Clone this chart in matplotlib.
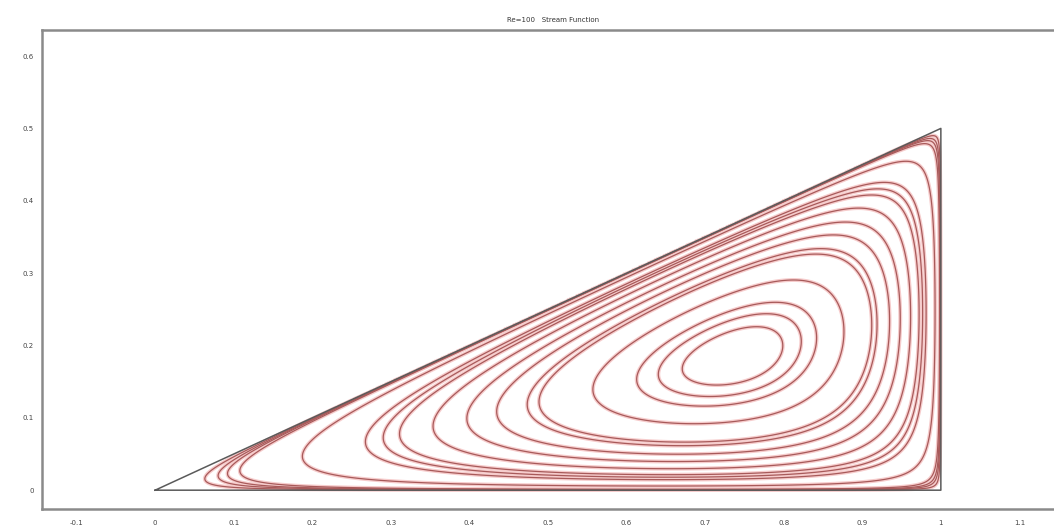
import numpy as np
import matplotlib
matplotlib.use("Agg")
import matplotlib.pyplot as plt

# Cavity geometry: right triangle with vertices (0,0), (1,0), (1,0.5)
tri_x = [0.0, 1.0, 1.0, 0.0]
tri_y = [0.0, 0.0, 0.5, 0.0]

# Streamline levels, as fractions of the peak stream-function value
levels = [0.0035, 0.0067, 0.0098, 0.015, 0.065, 0.16, 0.195, 0.23, 0.31,
          0.40, 0.485, 0.575, 0.61, 0.765, 0.875, 0.92, 0.96]

x_ticks = [-0.1, 0, 0.1, 0.2, 0.3, 0.4, 0.5, 0.6, 0.7, 0.8, 0.9, 1, 1.1]
x_labels = ["-0.1", "0", "0.1", "0.2", "0.3", "0.4", "0.5", "0.6", "0.7",
            "0.8", "0.9", "1", "1.1"]
y_ticks = [0, 0.1, 0.2, 0.3, 0.4, 0.5, 0.6]
y_labels = ["0", "0.1", "0.2", "0.3", "0.4", "0.5", "0.6"]

title = "Re=100   Stream Function"

# Stream function on the triangular cavity (zero on all three walls)
gx, gy = np.meshgrid(np.linspace(0, 1, 800), np.linspace(0, 0.5, 450))
psi = gy * (gx / 2 - gy) * (1 - gx) * gx ** 0.82
psi = np.where(gy <= gx / 2, psi, np.nan)
psi = psi / np.nanmax(psi)

fig = plt.figure(figsize=(10.54, 5.32), dpi=100)
ax = fig.add_axes([42 / 1054, 1 - 509 / 532, 1 - 42 / 1054, (509 - 30) / 532])

ax.contour(gx, gy, psi, levels=levels, colors="#f6cccc", linewidths=2.8)
ax.contour(gx, gy, psi, levels=levels, colors="#a85a5a", linewidths=0.9)

ax.plot(tri_x, tri_y, color="#5a5a5a", lw=1.1)

ax.set_xlim(-0.144, 1.144)
ax.set_ylim(-0.026, 0.636)
ax.set_xticks(x_ticks)
ax.set_xticklabels(x_labels)
ax.set_yticks(y_ticks)
ax.set_yticklabels(y_labels)
ax.tick_params(length=0, labelsize=5, colors="#444444")
ax.tick_params(axis="x", pad=8)
ax.tick_params(axis="y", pad=6)
for side in ("left", "top", "bottom"):
    ax.spines[side].set_color("#8a8a8a")
    ax.spines[side].set_linewidth(1.8)
ax.spines["right"].set_visible(False)

fig.text(0.525, 1 - 20 / 532, title, ha="center", va="center", fontsize=5,
         color="#333333")

fig.savefig("out.png", dpi=100)
